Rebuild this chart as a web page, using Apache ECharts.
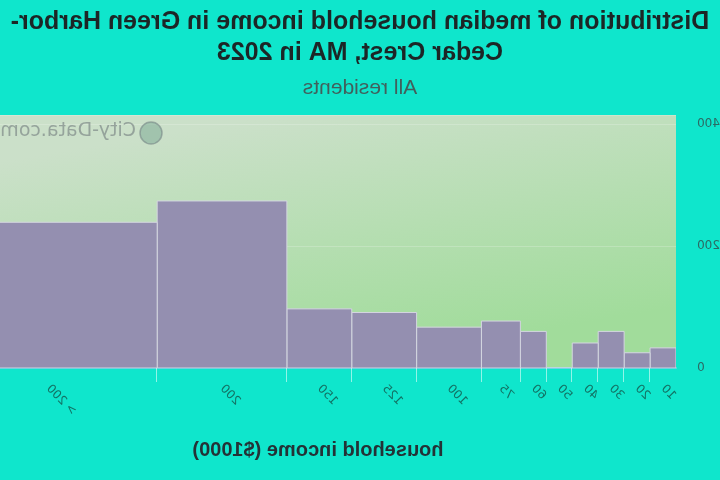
<!DOCTYPE html>
<html>
<head>
<meta charset="utf-8">
<script src="https://cdn.jsdelivr.net/npm/echarts@6/dist/echarts.min.js"></script>
<style>
  html, body { margin: 0; padding: 0; background: #0fe6cc; }
  /* the reference is a mirror image, so the whole chart is flipped */
  #chart { width: 720px; height: 480px; transform: scaleX(-1); }
</style>
</head>
<body>
<div id="chart"></div>
<script>
// income bins in $1000, left and right edge of each bar
var binStart = [0, 10, 20, 30, 40, 50, 60, 75, 100, 125, 150, 200];
var binEnd = [10, 20, 30, 40, 50, 60, 75, 100, 125, 150, 200, 284];
var binLabels = ['10', '20', '30', '40', '50', '60', '75', '100', '125', '150', '200', '> 200'];
var households = [33, 25, 60, 41, 0, 60, 77, 67, 91, 97, 274, 239];
var yTicks = [0, 200, 400];

var labelPos = binStart.map(function (s, i) { return (s + binEnd[i]) / 2; });
var tickPos = binStart.slice(1);

var chart = echarts.init(document.getElementById('chart'));

chart.setOption({
  backgroundColor: '#0fe6cc',
  title: [{
    text: 'Distribution of median household income in Green Harbor-\nCedar Crest, MA in 2023',
    left: 'center',
    top: 2,
    textStyle: { fontFamily: 'Liberation Sans', fontSize: 25, fontWeight: 'bold', color: '#1c2626', lineHeight: 31 }
  }, {
    text: 'All residents',
    left: 'center',
    top: 73,
    textStyle: { fontFamily: 'Liberation Sans', fontSize: 21, fontWeight: 'normal', color: '#41605c' }
  }],
  graphic: [{
    type: 'text',
    left: 584,
    top: 122,
    z: 5,
    style: { text: 'City-Data.com', fontFamily: 'DejaVu Sans', fontSize: 19, fill: 'rgba(120,130,130,0.65)' }
  }, {
    type: 'circle',
    shape: { cx: 569, cy: 133, r: 11 },
    z: 5,
    style: { fill: 'rgba(110,160,140,0.45)', stroke: 'rgba(120,135,135,0.6)', lineWidth: 1.5 }
  }],
  grid: {
    left: 44, right: -40, top: 115, bottom: 112,
    outerBoundsMode: 'none',
    show: true,
    borderWidth: 0,
    backgroundColor: new echarts.graphic.LinearGradient(0.56, 0, 0.5, 1, [
      { offset: 0, color: '#cbe0c9' },
      { offset: 1, color: '#a1dc9b' }
    ])
  },
  xAxis: {
    type: 'value',
    min: 0,
    max: 276,
    name: 'household income ($1000)',
    nameLocation: 'middle',
    nameGap: 72,
    nameTextStyle: { fontFamily: 'Liberation Sans', fontSize: 20, fontWeight: 'bold', color: '#243236' },
    axisLine: { show: true, lineStyle: { color: '#72d2e2', width: 2 } },
    axisTick: { show: true, customValues: tickPos, length: 14, lineStyle: { color: 'rgba(255,255,255,0.55)' } },
    splitLine: { show: false },
    axisLabel: {
      customValues: labelPos,
      rotate: 45,
      margin: 19,
      fontFamily: 'DejaVu Sans',
      fontSize: 12,
      color: '#137264',
      formatter: function (v) {
        for (var i = 0; i < labelPos.length; i++) {
          if (Math.abs(labelPos[i] - v) < 0.01) return binLabels[i];
        }
        return '';
      }
    }
  },
  yAxis: {
    type: 'value',
    min: 0,
    max: 415,
    interval: 200,
    axisLine: { show: false },
    axisTick: { show: false },
    splitLine: { show: true, lineStyle: { color: 'rgba(255,255,255,0.2)' } },
    axisLabel: {
      margin: 21,
      fontFamily: 'DejaVu Sans',
      fontSize: 12,
      color: '#2c6a64',
      formatter: function (v) { return yTicks.indexOf(v) >= 0 ? String(v) : ''; }
    }
  },
  series: [{
    type: 'custom',
    clip: true,
    encode: { x: [0, 1], y: 2 },
    data: households.map(function (v, i) { return [binStart[i], binEnd[i], v]; }),
    renderItem: function (params, api) {
      var p0 = api.coord([api.value(0), 0]);
      var p1 = api.coord([api.value(1), api.value(2)]);
      return {
        type: 'rect',
        shape: { x: p0[0], y: p1[1], width: p1[0] - p0[0], height: p0[1] - p1[1] },
        style: { fill: '#948fb0', stroke: '#d4d6e0', lineWidth: 1 }
      };
    }
  }]
});
</script>
</body>
</html>
